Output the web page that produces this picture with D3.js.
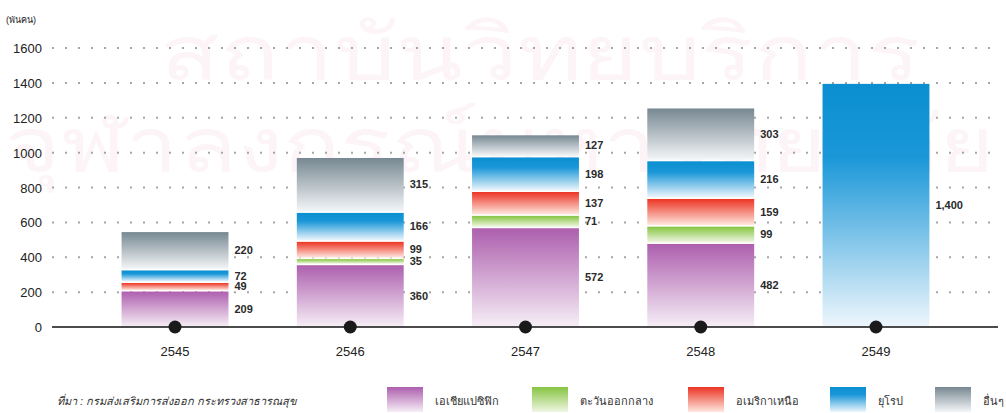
<!DOCTYPE html>
<html>
<head>
<meta charset="utf-8">
<script src="https://cdn.jsdelivr.net/npm/d3@7"></script>
<style>
  body { margin: 0; background: #fff; }
  text { font-family: "Liberation Sans", Arial, sans-serif; }
</style>
</head>
<body>
<div id="chart"></div>
<script>
// Data
var years = ["2545", "2546", "2547", "2548", "2549"];
var seriesNames = ["เอเชียแปซิฟิก", "ตะวันออกกลาง", "อเมริกาเหนือ", "ยุโรป", "อื่นๆ"];
var asiaPacific  = [209, 360, 572, 482, 0];
var middleEast   = [0, 35, 71, 99, 0];
var northAmerica = [49, 99, 137, 159, 0];
var europe       = [72, 166, 198, 216, 1400];
var others       = [220, 315, 127, 303, 0];
var yTicks = [0, 200, 400, 600, 800, 1000, 1200, 1400, 1600];
var unitLabel = "(พันคน)";
var sourceText = "ที่มา : กรมส่งเสริมการส่งออก กระทรวงสาธารณสุข";
var watermark = ["สถาบันวิทยบริการ", "จุฬาลงกรณ์มหาวิทยาลัย"];

var makeChart = function() {

    var w = 1006;
    var h = 413;

    // top color, bottom color per series
    var colors = [
        ["#ad5fae", "#f6eef6"],
        ["#86c440", "#f0f6e4"],
        ["#ec3424", "#fee8e0"],
        ["#0a8fd0", "#eef6fc"],
        ["#778892", "#f4f6f8"]
    ];

    var table = years.map(function(y, i) {
        return {
            year: y,
            s0: asiaPacific[i], s1: middleEast[i], s2: northAmerica[i],
            s3: europe[i], s4: others[i]
        };
    });
    var keys = ["s0", "s1", "s2", "s3", "s4"];
    var stacked = d3.stack().keys(keys)(table);

    var x = d3.scaleBand()
                .domain(years)
                .range([87.4, 963.6])
                .paddingInner(0.39)
                .paddingOuter(0.195);

    var y = d3.scaleLinear()
                .domain([0, 1600])
                .range([327, 48]);

    var svg = d3.select("#chart")
                .append("svg")
                .attr("width", w)
                .attr("height", h);

    //Gradients
    var defs = svg.append("defs");
    colors.forEach(function(c, i) {
        var g = defs.append("linearGradient")
            .attr("id", "grad" + i)
            .attr("x1", 0).attr("y1", 0)
            .attr("x2", 0).attr("y2", 1);
        g.append("stop").attr("offset", "0%").attr("stop-color", c[0]);
        if (i == 3) {
            g.append("stop").attr("offset", "30%").attr("stop-color", "#1a97d8");
        }
        g.append("stop").attr("offset", "100%").attr("stop-color", c[1]);
    });

    //Very faint watermark
    svg.append("g")
        .selectAll("text")
        .data(watermark)
        .join("text")
        .attr("x", function(d, i) { return i == 0 ? 160 : 5; })
        .attr("y", function(d, i) { return i == 0 ? 80 : 172; })
        .attr("textLength", function(d, i) { return i == 0 ? 760 : 990; })
        .attr("lengthAdjust", "spacingAndGlyphs")
        .attr("font-size", 78)
        .attr("fill", "#fcf4f7")
        .text(function(d) { return d; });

    //Dotted gridlines
    var gridTicks = yTicks.filter(function(t) { return t > 0; });
    svg.append("g")
        .selectAll("line")
        .data(gridTicks)
        .join("line")
        .attr("x1", 52)
        .attr("x2", 1000)
        .attr("y1", function(d) { return y(d); })
        .attr("y2", function(d) { return y(d); })
        .attr("stroke", "#a5a5a5")
        .attr("stroke-width", 2)
        .attr("stroke-dasharray", "2 11");

    //Y tick labels
    svg.append("g")
        .selectAll("text")
        .data(yTicks)
        .join("text")
        .attr("x", 42)
        .attr("y", function(d) { return y(d) + 5; })
        .attr("text-anchor", "end")
        .attr("font-size", 13)
        .attr("fill", "#222")
        .text(function(d) { return d; });

    svg.append("text")
        .attr("x", 6)
        .attr("y", 23)
        .attr("font-size", 9)
        .attr("fill", "#222")
        .text(unitLabel);

    //Bars
    var layers = svg.append("g")
        .selectAll("g")
        .data(stacked)
        .join("g")
        .attr("fill", function(d, i) { return "url(#grad" + i + ")"; });

    layers.selectAll("rect")
        .data(function(d) { return d.filter(function(p) { return p[1] - p[0] > 0; }); })
        .join("rect")
        .attr("x", function(d) { return x(d.data.year); })
        .attr("y", function(d) { return y(d[1]) + 1; })
        .attr("width", x.bandwidth())
        .attr("height", function(d) { return Math.max(0, y(d[0]) - y(d[1]) - 1.5); });

    //Value labels
    var fmt = d3.format(",");
    layers.selectAll("text")
        .data(function(d) { return d.filter(function(p) { return p[1] - p[0] > 0; }); })
        .join("text")
        .attr("x", function(d) { return x(d.data.year) + x.bandwidth() + 6; })
        .attr("y", function(d) { return y((d[0] + d[1]) / 2) + 4; })
        .attr("font-size", 11)
        .attr("font-weight", "bold")
        .attr("fill", "#2a2a2a")
        .text(function(d) { return fmt(d[1] - d[0]); });

    //Zero axis
    svg.append("line")
        .attr("x1", 52)
        .attr("x2", 998)
        .attr("y1", y(0))
        .attr("y2", y(0))
        .attr("stroke", "#111")
        .attr("stroke-width", 1.5);

    svg.append("g")
        .selectAll("circle")
        .data(years)
        .join("circle")
        .attr("cx", function(d) { return x(d) + x.bandwidth() / 2; })
        .attr("cy", y(0))
        .attr("r", 6.5)
        .attr("fill", "#1a1a1a");

    svg.append("g")
        .selectAll("text")
        .data(years)
        .join("text")
        .attr("x", function(d) { return x(d) + x.bandwidth() / 2; })
        .attr("y", 356)
        .attr("text-anchor", "middle")
        .attr("font-size", 13)
        .attr("fill", "#222")
        .text(function(d) { return d; });

    //Source
    svg.append("text")
        .attr("x", 57)
        .attr("y", 405)
        .attr("font-size", 11)
        .attr("font-style", "italic")
        .attr("fill", "#333")
        .text(sourceText);

    //Legend
    var legendX = [387, 532, 688, 830, 935];
    var legend = svg.append("g")
        .selectAll("g")
        .data(seriesNames)
        .join("g")
        .attr("transform", function(d, i) { return "translate(" + legendX[i] + ",387)"; });

    legend.append("rect")
        .attr("width", 36)
        .attr("height", 25)
        .attr("fill", function(d, i) { return "url(#grad" + i + ")"; });

    legend.append("text")
        .attr("x", 48)
        .attr("y", 18)
        .attr("font-size", 11)
        .attr("fill", "#333")
        .text(function(d) { return d; });
}

makeChart();
</script>
</body>
</html>
